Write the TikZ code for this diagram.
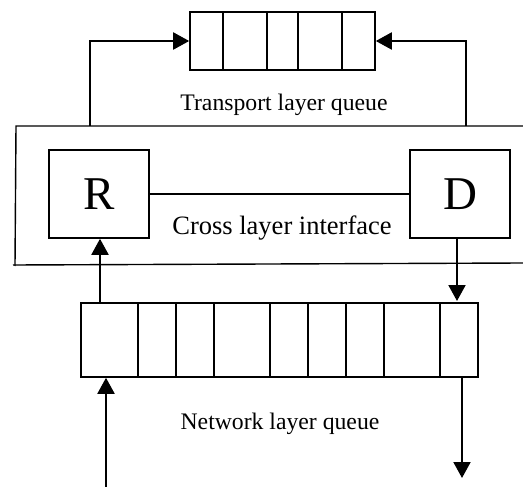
\documentclass[tikz,border=0pt]{standalone}
\usepackage{fontspec}
\setmainfont{Liberation Serif}
\usetikzlibrary{arrows.meta,positioning,calc}

\begin{document}
\begin{tikzpicture}[x=1pt,y=-1pt,
  box/.style={draw,line width=1.6pt,minimum width=100pt,minimum height=88pt,inner sep=0pt,font=\fontsize{47}{47}\selectfont},
  queue/.style={draw,line width=1.6pt,inner sep=0pt},
  lbl/.style={inner sep=0pt,font=\fontsize{23.7}{24}\selectfont},
  arr/.style={line width=2pt,-{Triangle[length=16pt,width=17pt]}}]
  \useasboundingbox (0,0) rectangle (523,487);

  % oben: Transport-Warteschlange
  \node[queue,minimum width=185pt,minimum height=58pt] (tq) at (282.5,41) {};
  \foreach \x in {223,267,298,342}
    \draw[line width=1.6pt] (\x,12) -- (\x,70);
  \node[lbl] (tlq) at (284,105) {Transport layer queue};
  \coordinate (tl) at (90,126);
  \coordinate (tr) at (466,126);
  \draw[arr] (tl) |- (tq.west);
  \draw[arr] (tr) |- (tq.east);

  % Rahmen der Schnittstelle
  \draw[line width=1.4pt] (523,126) -- (16,126) -- (15,266);
  \draw[line width=1.4pt] (13,265) -- (523,263);

  % R und D
  \node[box] (R) at (99,194) {R};
  \node[box] (D) at (460,194) {D};
  \draw[line width=1.4pt] (R) -- (D);
  \node[lbl,font=\fontsize{26.5}{27}\selectfont] (cli) at (282,228) {Cross layer interface};

  % unten: Network-Warteschlange
  \node[queue,minimum width=397pt,minimum height=74pt] (nq) at (279.5,340) {};
  \foreach \x in {138,176,214,270,308,346,384,440}
    \draw[line width=1.6pt] (\x,303) -- (\x,377);
  \node[lbl] (nlq) at (280,424) {Network layer queue};

  % Pfeile
  \coordinate (rin) at (100,303);
  \coordinate (dout) at (457,303);
  \coordinate (nin) at (106,487);
  \coordinate (nout) at (462,478);
  \draw[arr] (rin) -- (rin |- R.south);
  \draw[arr,shorten >=2pt] (dout |- D.south) -- (dout);
  \draw[arr] (nin) -- (nin |- nq.south);
  \draw[arr] (nout |- nq.south) -- (nout);
\end{tikzpicture}
\end{document}
